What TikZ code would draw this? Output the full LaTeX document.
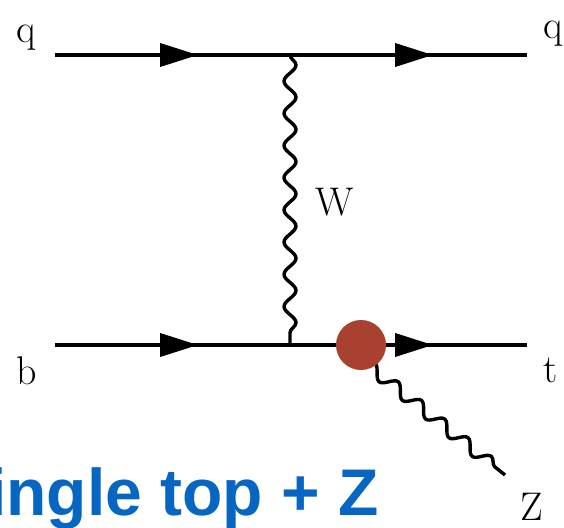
\documentclass[tikz,border=0pt]{standalone}
\usepackage{fontspec}
\newfontfamily\bluefont{Liberation Sans}
\usetikzlibrary{arrows.meta,decorations.pathmorphing,decorations.markings}
\definecolor{blobred}{HTML}{A8412F}
\definecolor{titleblue}{HTML}{0766C1}
\tikzset{
  fermion/.style={line width=3.8pt,
    postaction={decorate},
    decoration={markings,
      mark=at position 143pt with {\arrow{Triangle[length=38pt,width=23pt]}},
      mark=at position 378pt with {\arrow{Triangle[length=38pt,width=23pt]}}}},
  boson/.style={line width=3.4pt, decorate,
    decoration={snake, amplitude=6pt, segment length=#1}},
  lbl/.style={anchor=base, inner sep=0pt, font=\fontsize{40}{48}\selectfont},
  blob/.style={circle, fill=blobred, minimum size=50pt, inner sep=0pt},
  pt/.style={inner sep=0pt, minimum size=0pt}
}
\begin{document}
\begin{tikzpicture}[x=1pt,y=-1pt]
\useasboundingbox (0,0) rectangle (564,527);
\clip (0,0) rectangle (564,527);
% coordinates
\coordinate (qa) at (55,55);
\coordinate (v1) at (290,55);
\coordinate (qb) at (527,55);
\coordinate (ba) at (55,345);
\coordinate (v2) at (290,345);
\coordinate (tb) at (527,345);
\coordinate (zs) at (364,362);
\coordinate (ze) at (505,475);
% lines
\draw[fermion] (qa) -- (v1) -- (qb);
\draw[fermion] (ba) -- (v2) -- (tb);
\draw[boson=32.2pt] (v1) -- (v2);
\draw[boson=29.8pt] (zs) -- (ze);
\node[blob] (bl) at (361,345) {};
% labels
\node[lbl] (lq1) at (26,42) {q};
\node[lbl] (lq2) at (553,38) {q};
\node[lbl] (lw) at (335,215) {W};
\node[lbl] (lb) at (27,384) {b};
\node[lbl] (lt) at (551,382) {t};
\node[lbl] (lz) at (532,520) {Z};
\node[anchor=base west, inner sep=0pt, text=titleblue,
  font=\bluefont\bfseries\fontsize{66}{70}\selectfont] (title) at (-56,515) {Single top + Z};
\end{tikzpicture}
\end{document}
